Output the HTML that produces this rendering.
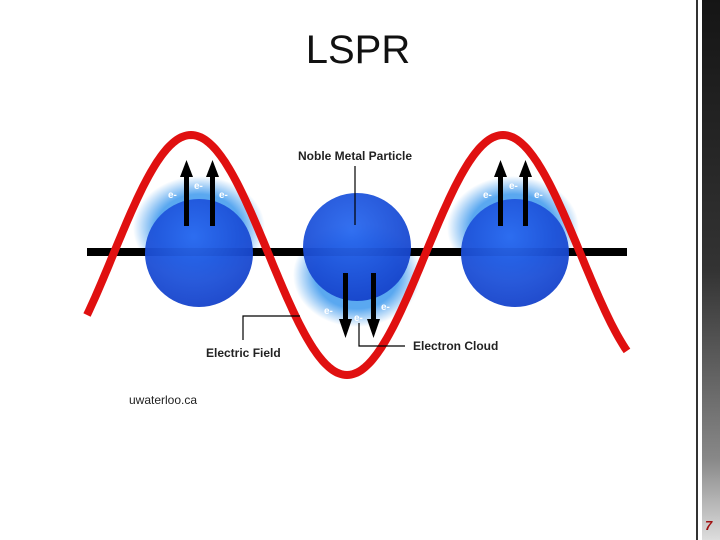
<!DOCTYPE html>
<html><head><style>
body{margin:0;width:720px;height:540px;overflow:hidden;background:#fff;position:relative;font-family:"Liberation Sans",sans-serif}
.t{position:absolute;}
</style></head><body>
<div class="t" style="left:0;width:716px;top:28px;text-align:center;font-size:40px;color:#111">LSPR</div>
<div class="t" style="left:129px;top:393px;font-size:12px;color:#222">uwaterloo.ca</div>
<div class="t" style="left:696px;top:0;width:2px;height:540px;background:#333"></div>
<div class="t" style="left:702px;top:0;width:18px;height:540px;background:linear-gradient(#151515,#333 50%,#888 85%,#ddd)"></div>
<div class="t" style="left:705px;top:518px;font-size:13px;color:#a01010;font-weight:bold;font-style:italic">7</div>
<svg width="720" height="540" style="position:absolute;left:0;top:0">
<defs>
<radialGradient id="h"><stop offset="0.65" stop-color="#5aa8f0"/><stop offset="1" stop-color="#5aa8f0" stop-opacity="0"/></radialGradient>
<radialGradient id="b" cx="0.45" cy="0.35" r="0.7"><stop offset="0" stop-color="#2a6af0"/><stop offset="1" stop-color="#1440c8"/></radialGradient>
</defs>
<ellipse cx="199" cy="228" rx="66" ry="52" fill="url(#h)"/>
<ellipse cx="513" cy="228" rx="66" ry="52" fill="url(#h)"/>
<ellipse cx="357" cy="275" rx="64" ry="52" fill="url(#h)"/>
<rect x="87" y="248" width="540" height="8" fill="#000"/>
<circle cx="199" cy="253" r="54" fill="url(#b)" opacity="0.95"/>
<circle cx="357" cy="247" r="54" fill="url(#b)" opacity="0.95"/>
<circle cx="515" cy="253" r="54" fill="url(#b)" opacity="0.95"/>
<path id="w" fill="none" stroke="#e01010" stroke-width="8"/>
<g fill="#000">
<rect x="184" y="175" width="5" height="51"/><polygon points="180,177 193,177 186.5,160"/>
<rect x="210" y="175" width="5" height="51"/><polygon points="206,177 219,177 212.5,160"/>
<rect x="498" y="175" width="5" height="51"/><polygon points="494,177 507,177 500.5,160"/>
<rect x="523" y="175" width="5" height="51"/><polygon points="519,177 532,177 525.5,160"/>
<rect x="343" y="273" width="5" height="48"/><polygon points="339,319 352,319 345.5,338"/>
<rect x="371" y="273" width="5" height="48"/><polygon points="367,319 380,319 373.5,338"/>
</g>
<g fill="#fff" font-size="10" font-weight="bold">
<text x="168" y="198">e-</text><text x="194" y="189">e-</text><text x="219" y="198">e-</text>
<text x="483" y="198">e-</text><text x="509" y="189">e-</text><text x="534" y="198">e-</text>
<text x="324" y="314">e-</text><text x="354" y="321">e-</text><text x="381" y="310">e-</text>
</g>
<g stroke="#000" stroke-width="1.2" fill="none">
<path d="M355 166V225"/><path d="M243 340V316H300"/><path d="M359 323V346H405"/>
</g>
<g font-size="12" font-weight="bold" fill="#222">
<text x="298" y="160">Noble Metal Particle</text>
<text x="206" y="357">Electric Field</text>
<text x="413" y="350">Electron Cloud</text>
</g>
</svg>
<script>
var d="";for(var x=87;x<=627;x+=2){var y=255-120*Math.cos(2*Math.PI*(x-191)/312);d+=(x==87?"M":"L")+x+" "+y.toFixed(1);}
document.getElementById("w").setAttribute("d",d);
</script>
</body></html>
